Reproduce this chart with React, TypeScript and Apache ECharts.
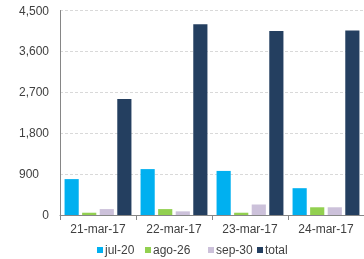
import React, { useEffect, useRef } from "react";
import * as echarts from "echarts";

const categories = ["21-mar-17", "22-mar-17", "23-mar-17", "24-mar-17"];
const seriesNames = ["jul-20", "ago-26", "sep-30", "total"];
const jul20 = [790, 1010, 970, 590];
const ago26 = [50, 130, 50, 170];
const sep30 = [130, 80, 230, 170];
const total = [2550, 4200, 4050, 4060];
const colors = ["#00B0F0", "#92D050", "#CCC1DA", "#243F60"];
const yTicks = [0, 900, 1800, 2700, 3600, 4500];

export default function App() {
  const ref = useRef<HTMLDivElement>(null);
  useEffect(() => {
    if (!ref.current) return;
    const chart = echarts.init(ref.current, undefined, { renderer: "svg" });
    const values = [jul20, ago26, sep30, total];
    const legendLefts = [97, 145, 208, 257];
    chart.setOption({
      animation: false,
      textStyle: { fontFamily: "Liberation Sans, Arial, sans-serif" },
      grid: { left: 60, right: -8, top: 10.5, bottom: 44, containLabel: false },
      legend: seriesNames.map((n, i) => ({
        data: [n],
        left: legendLefts[i],
        top: 244,
        itemWidth: 6,
        itemHeight: 6,
        itemGap: 0,
        icon: "rect",
        padding: 0,
        textStyle: { fontSize: 12, color: "#404040", padding: [0, 0, 0, -3] },
      })),
      xAxis: {
        type: "category",
        data: categories,
        axisLine: { lineStyle: { color: "#868686", width: 1 } },
        axisTick: { show: true, length: 5, lineStyle: { color: "#868686" } },
        axisLabel: { fontSize: 12, color: "#404040", margin: 8, interval: 0 },
      },
      yAxis: {
        type: "value",
        min: yTicks[0],
        max: yTicks[yTicks.length - 1],
        interval: yTicks[1] - yTicks[0],
        axisLine: { show: true, lineStyle: { color: "#868686", width: 1 } },
        axisTick: { show: false },
        splitLine: { lineStyle: { color: "#D9D9D9", type: [3, 2] } },
        axisLabel: {
          fontSize: 12,
          color: "#404040",
          margin: 11,
          formatter: (v: number) =>
            v === 900 ? "{p|900}" : v.toLocaleString("en-US"),
          rich: { p: { fontSize: 12, color: "#404040", padding: [0, 10, 0, 0] } },
        },
      },
      series: seriesNames.map((n, i) => ({
        name: n,
        type: "bar",
        data: values[i],
        barGap: "24%",
        barCategoryGap: "12%",
        itemStyle: { color: colors[i] },
      })),
    });
    return () => chart.dispose();
  }, []);
  return (
    <div
      ref={ref}
      style={{ position: "fixed", left: 0, top: 0, width: 364, height: 259 }}
    />
  );
}
